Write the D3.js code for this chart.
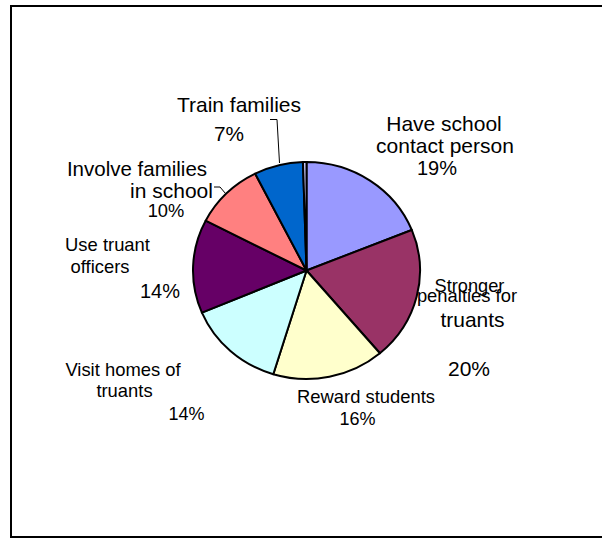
<!DOCTYPE html>
<html>
<head>
<meta charset="utf-8">
<script src="https://cdn.jsdelivr.net/npm/d3@7"></script>
<style>
  html, body { margin: 0; padding: 0; background: #ffffff; }
  svg { display: block; }
  text { font-family: "Liberation Sans", Arial, sans-serif; fill: #000; }
</style>
</head>
<body>
<svg id="chart" width="602" height="539"></svg>
<script>
// Responses, clockwise from 12 o'clock
const categories = [
  "Have school contact person",
  "Stronger penalties for truants",
  "Reward students",
  "Visit homes of truants",
  "Use truant officers",
  "Involve families in school",
  "Train families",
  "Other"
];
const percents = [19, 20, 16, 14, 14, 10, 7, 0.5];
const percentLabels = ["19%", "20%", "16%", "14%", "14%", "10%", "7%", ""];
const sliceColors = ["#9999ff", "#993366", "#ffffcc", "#ccffff", "#660066", "#ff8080", "#0066cc", "#ccccff"];

// Label text placement (line text, centre x, baseline y, font size)
const labelLayout = [
  [["Have school", 444, 131, 21], ["contact person", 445, 153, 21], ["19%", 437, 175, 20]],
  [["Stronger", 469.5, 292, 18.2], ["penalties for", 467, 301.5, 18.4], ["truants", 472.5, 327, 21], ["20%", 469, 375.5, 21]],
  [["Reward students", 366, 403, 18.4], ["16%", 357.5, 424.5, 18]],
  [["Visit homes of", 123, 375.5, 18.4], ["truants", 124.5, 396.5, 18.4], ["14%", 186.5, 420, 18]],
  [["Use truant", 107.5, 251, 18.4], ["officers", 100, 273, 18.4], ["14%", 160, 298, 20]],
  [["Involve families", 137, 176, 20.5], ["in school", 171.5, 198, 21], ["10%", 166, 217, 18.3]],
  [["Train families", 239, 111.5, 21], ["7%", 229, 141, 20.8]],
  []
];

const svg = d3.select("#chart");

// Outer frame
svg.append("rect")
  .attr("x", 11).attr("y", 6)
  .attr("width", 620).attr("height", 531)
  .attr("fill", "none")
  .attr("stroke", "#000")
  .attr("stroke-width", 2);

const cx = 306.5, cy = 270.5, rx = 113.5, ry = 108.5;

const pie = d3.pie().sort(null).value(d => d.value);
const arc = d3.arc().innerRadius(0).outerRadius(rx);

const rows = categories.map((c, i) => ({ name: c, value: percents[i], color: sliceColors[i] }));

const pieG = svg.append("g")
  .attr("transform", `translate(${cx},${cy}) scale(1,${ry / rx})`);

pieG.selectAll("path")
  .data(pie(rows))
  .join("path")
  .attr("d", arc)
  .attr("fill", d => d.data.color)
  .attr("stroke", "#000")
  .attr("stroke-width", 2)
  .attr("stroke-linejoin", "round")
  .attr("vector-effect", "non-scaling-stroke");

// Leader lines for labels set away from their slices
const line = d3.line();
const leaders = [
  [[270, 119.5], [277, 119.5], [279.5, 163]],
  [[214, 187], [220, 187], [225.5, 193.5]]
];
svg.selectAll("path.leader")
  .data(leaders)
  .join("path")
  .attr("class", "leader")
  .attr("d", line)
  .attr("fill", "none")
  .attr("stroke", "#000")
  .attr("stroke-width", 1);

// Category and percentage labels
const labelG = svg.append("g");
labelLayout.forEach((lines, i) => {
  lines.forEach(([txt, x, y, size]) => {
    labelG.append("text")
      .attr("x", x).attr("y", y)
      .attr("text-anchor", "middle")
      .attr("font-size", size)
      .text(txt);
  });
});
</script>
</body>
</html>
